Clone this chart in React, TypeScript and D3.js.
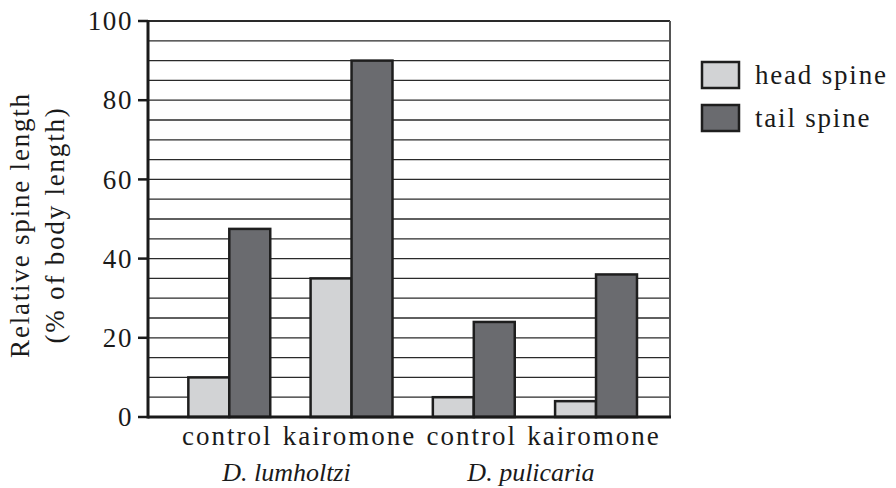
import React from "react";
import * as d3 from "d3";

const categories = ["lum-control", "lum-kairomone", "pul-control", "pul-kairomone"];
const treatmentLabels = ["control", "kairomone", "control", "kairomone"];
const groupLabels = ["D. lumholtzi", "D. pulicaria"];
const groupMembers = [[0, 1], [2, 3]];
const series = ["head spine", "tail spine"];
const headSpine = [10, 35, 5, 4];
const tailSpine = [47.5, 90, 24, 36];
const yTicks = [0, 20, 40, 60, 80, 100];
const colors = ["#d2d3d5", "#6a6b6f"];

const W = 896, H = 488;
const left = 148, right = 670, top = 21, bottom = 417;
const FF = "'Liberation Serif'";

function T(props: any) {
  const { ls, size, italic, children, ...rest } = props;
  return (
    <text {...rest} fontFamily={FF} fontSize={size}
      style={{ fontFamily: FF, fontSize: size + "px", letterSpacing: (ls || 0) + "px", fontStyle: italic ? "italic" : "normal" }}
      fill="#1a1a1a">{children}</text>
  );
}

export default function App() {
  const y = d3.scaleLinear().domain([0, 100]).range([bottom, top]);
  const x = d3.scaleBand<string>().domain(categories).range([left, right])
    .paddingInner(0.33).paddingOuter(0.3).align(0.55);
  const xs = d3.scaleBand<string>().domain(series).range([0, x.bandwidth()]);
  const values = [headSpine, tailSpine];
  const grid = y.ticks(20);

  return (
    <svg width={W} height={H} style={{ display: "block", margin: "-8px 0 0 -8px" }}>
      <style>{`text { font-family: 'Liberation Serif', 'Times New Roman', serif; }`}</style>
      <rect x={0} y={0} width={W} height={H} fill="#fff" />
      {grid.map((t) => (
        <line key={"g" + t} x1={left} x2={right} y1={y(t)} y2={y(t)}
          stroke="#2a2a2a" strokeWidth={t === 100 ? 2 : 1.3} />
      ))}
      <line x1={right} x2={right} y1={top} y2={bottom} stroke="#555" strokeWidth={2} />
      {categories.map((c, i) => (
        <g key={c}>
          {series.map((s, si) => (
            <rect key={s} x={(x(c) as number) + (xs(s) as number)} y={y(values[si][i])}
              width={xs.bandwidth()} height={y(0) - y(values[si][i])}
              fill={colors[si]} stroke="#1e1e1e" strokeWidth={2.5} />
          ))}
        </g>
      ))}
      <line x1={left} x2={right + 1} y1={bottom} y2={bottom} stroke="#1a1a1a" strokeWidth={3} />
      <line x1={left} x2={left} y1={top - 1} y2={bottom + 1.5} stroke="#1a1a1a" strokeWidth={3} />
      {yTicks.map((t) => (
        <g key={"t" + t}>
          <line x1={left - 10} x2={left} y1={y(t)} y2={y(t)} stroke="#1a1a1a" strokeWidth={2.5} />
          <T x={133} y={y(t)} dy="0.34em" textAnchor="end" size={27} ls={1.6}>{t}</T>
        </g>
      ))}
      {categories.map((c, i) => (
        <T key={"c" + c} x={(x(c) as number) + x.bandwidth() / 2 - 2} y={445} textAnchor="middle"
          size={27} ls={2}>{treatmentLabels[i]}</T>
      ))}
      {groupLabels.map((g, gi) => {
        const a = x(categories[groupMembers[gi][0]]) as number;
        const b = (x(categories[groupMembers[gi][1]]) as number) + x.bandwidth();
        return (
          <T key={g} x={(a + b) / 2 - 4} y={481} textAnchor="middle" size={26} italic>{g}</T>
        );
      })}
      <g transform={`translate(29, 225) rotate(-90)`}>
        <T x={0} y={0} textAnchor="middle" size={27} ls={1.8}>Relative spine length</T>
        <T x={0} y={35} textAnchor="middle" size={27} ls={1.8}>(% of body length)</T>
      </g>
      {series.map((s, si) => (
        <g key={"l" + s} transform={`translate(702, ${62 + si * 43})`}>
          <rect x={0} y={0} width={37} height={26} fill={colors[si]} stroke="#1e1e1e" strokeWidth={2.5} />
          <T x={53} y={13} dy="0.32em" size={27} ls={1.8}>{s}</T>
        </g>
      ))}
    </svg>
  );
}
